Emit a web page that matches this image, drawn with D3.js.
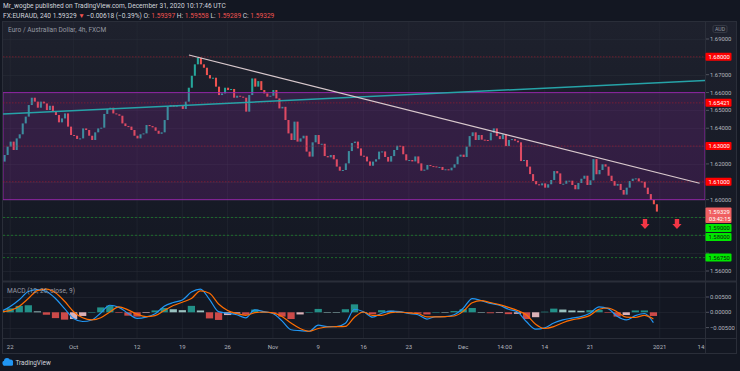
<!DOCTYPE html>
<html>
<head>
<meta charset="utf-8">
<script src="https://cdnjs.cloudflare.com/ajax/libs/d3/7.8.5/d3.min.js"></script>
<style>
  html, body { margin: 0; padding: 0; background: #131722; overflow: hidden; }
  svg { display: block; }
  text { font-family: Roboto, "Noto Sans", sans-serif; }
</style>
</head>
<body>
<div id="chart"></div>
<script>
// EURAUD 4h, closes (one value per 8h)
const closes = [
  1.6213, 1.6250, 1.6297, 1.6325, 1.6278, 1.6343, 1.6366, 1.6427, 1.6465, 1.6530,
  1.6571, 1.6549, 1.6515, 1.6549, 1.6539, 1.6502, 1.6526, 1.6493, 1.6474, 1.6433,
  1.6455, 1.6483, 1.6409, 1.6362, 1.6358, 1.6340, 1.6343, 1.6399, 1.6390, 1.6358,
  1.6334, 1.6377, 1.6399, 1.6403, 1.6480, 1.6508, 1.6515, 1.6483, 1.6478, 1.6470,
  1.6427, 1.6412, 1.6409, 1.6390, 1.6358, 1.6343, 1.6366, 1.6371, 1.6418, 1.6412,
  1.6405, 1.6386, 1.6369, 1.6377, 1.6446, 1.6521, 1.6530, 1.6521, 1.6530, 1.6526,
  1.6508, 1.6549, 1.6627, 1.6694, 1.6758, 1.6795, 1.6758, 1.6739, 1.6698, 1.6679,
  1.6683, 1.6633, 1.6586, 1.6595, 1.6627, 1.6614, 1.6620, 1.6571, 1.6582, 1.6577,
  1.6571, 1.6493, 1.6586, 1.6679, 1.6633, 1.6664, 1.6614, 1.6595, 1.6577, 1.6582,
  1.6614, 1.6567, 1.6511, 1.6520, 1.6446, 1.6371, 1.6334, 1.6437, 1.6325, 1.6343,
  1.6358, 1.6269, 1.6241, 1.6321, 1.6362, 1.6311, 1.6313, 1.6244, 1.6237, 1.6250,
  1.6226, 1.6185, 1.6162, 1.6166, 1.6203, 1.6272, 1.6317, 1.6325, 1.6287, 1.6246,
  1.6241, 1.6214, 1.6190, 1.6213, 1.6226, 1.6269, 1.6270, 1.6239, 1.6213, 1.6244,
  1.6278, 1.6302, 1.6300, 1.6254, 1.6220, 1.6222, 1.6214, 1.6242, 1.6203, 1.6162,
  1.6168, 1.6194, 1.6188, 1.6186, 1.6181, 1.6183, 1.6166, 1.6170, 1.6164, 1.6179,
  1.6198, 1.6241, 1.6252, 1.6239, 1.6297, 1.6356, 1.6377, 1.6334, 1.6362, 1.6336,
  1.6334, 1.6332, 1.6375, 1.6399, 1.6356, 1.6339, 1.6366, 1.6300, 1.6334, 1.6339,
  1.6330, 1.6321, 1.6216, 1.6222, 1.6185, 1.6143, 1.6104, 1.6086, 1.6080, 1.6091,
  1.6067, 1.6086, 1.6110, 1.6160, 1.6147, 1.6088, 1.6089, 1.6106, 1.6106, 1.6082,
  1.6058, 1.6093, 1.6117, 1.6134, 1.6082, 1.6108, 1.6227, 1.6142, 1.6166, 1.6198,
  1.6185, 1.6134, 1.6104, 1.6078, 1.6088, 1.6054, 1.6028, 1.6067, 1.6104, 1.6117,
  1.6119, 1.6102, 1.6100, 1.6067, 1.6031, 1.5998, 1.5974, 1.59329
];
const firstOpen = 1.6195;
const firstBarDay = -0.95;   // trading days counted from Sep 22
const barDays = 1 / 3;

// MACD (12, 26, close, 9), one reading per trading day from day -1
const macdValues = [
  0.0003, 0.0019, 0.0041, 0.0068, 0.0074, 0.0068, 0.0045, 0.0012, -0.0020, -0.0030,
  -0.0025, -0.0002, 0.0023, 0.0016, -0.0003, -0.0020, -0.0016, -0.0005, 0.0020, 0.0032,
  0.0040, 0.0066, 0.0076, 0.0042, 0.0002, -0.0003, -0.0008, -0.0018, 0.0008, 0.0002,
  -0.0004, -0.0028, -0.0057, -0.0060, -0.0062, -0.0042, -0.0047, -0.0047, -0.0036, 0.0010,
  0.0002, -0.0016, -0.0003, 0.0004, 0.0002, -0.0004, -0.0008, -0.0022, -0.0014, -0.0014,
  -0.0008, 0.0013, 0.0045, 0.0038, 0.0029, 0.0023, 0.0010, 0.0001, -0.0031, -0.0055,
  -0.0051, -0.0035, -0.0025, -0.0019, -0.0014, -0.0003, 0.0018, 0.0012, -0.0013, -0.0025,
  -0.0011, -0.0004, -0.0034
];
const signalValues = [
  0.0002, 0.0006, 0.0020, 0.0045, 0.0071, 0.0076, 0.0064, 0.0036, 0.0002, -0.0018,
  -0.0025, -0.0018, 0.0001, 0.0018, 0.0008, -0.0006, -0.0014, -0.0011, 0.0006, 0.0022,
  0.0033, 0.0045, 0.0070, 0.0062, 0.0027, 0.0006, -0.0004, -0.0010, -0.0001, 0.0001,
  -0.0002, -0.0014, -0.0035, -0.0053, -0.0062, -0.0053, -0.0048, -0.0047, -0.0046, -0.0016,
  0.0001, -0.0010, -0.0010, -0.0001, 0.0001, -0.0002, -0.0004, -0.0015, -0.0015, -0.0014,
  -0.0012, 0.0003, 0.0031, 0.0038, 0.0032, 0.0025, 0.0016, 0.0006, -0.0009, -0.0039,
  -0.0053, -0.0047, -0.0034, -0.0025, -0.0019, -0.0010, 0.0010, 0.0014, 0.0001, -0.0016,
  -0.0017, -0.0010, -0.0022
];
const macdFirstDay = -1;

const priceTicks = [1.69, 1.68, 1.67, 1.66, 1.65, 1.64, 1.63, 1.62, 1.61, 1.60, 1.59, 1.58, 1.57, 1.56];
const macdTicks = [0.005, 0, -0.005];
const timeLabels = ["22", "Oct", "12", "19", "26", "Nov", "9", "16", "23", "Dec", "14:00", "14", "21", "2021", "14:00"];
const timeDays = [0, 7, 14, 19, 24, 29, 34, 39, 44, 50, 54.58, 59, 64, 71.7, 76.7];

// drawings on the chart
const redLevels = [1.68, 1.65421, 1.63, 1.61];
const greenLevels = [1.59, 1.58, 1.5675];
const zone = [1.66, 1.60];
const channelLine = [[-0.79, 1.64798], [76.7, 1.66675]];
const trendLine = [[19.73, 1.68104], [76.1, 1.60916]];
const arrowMarks = [[70.07, 1.5892], [73.6, 1.5892]];
const lastPrice = 1.59329;
const countdown = "03:42:15";

const W = 740, H = 371;
const paneLeft = 3, paneRight = 705, axisRight = 736;
const priceTop = 22, priceBottom = 281, macdBottom = 338, timeBottom = 353;
const axisFont = 5.9;

const svg = d3.select("#chart").append("svg")
  .attr("width", W)
  .attr("height", H);

svg.append("rect").attr("width", W).attr("height", H).attr("fill", "#131722");

const defs = svg.append("defs");
const grad = defs.append("linearGradient")
  .attr("id", "bgGrad").attr("x1", 0).attr("y1", 0).attr("x2", 0).attr("y2", 1);
grad.append("stop").attr("offset", "0%").attr("stop-color", "#1e212d");
grad.append("stop").attr("offset", "100%").attr("stop-color", "#131722");

defs.append("clipPath").attr("id", "priceClip")
  .append("rect").attr("x", paneLeft).attr("y", priceTop)
  .attr("width", paneRight - paneLeft).attr("height", priceBottom - priceTop);
defs.append("clipPath").attr("id", "macdClip")
  .append("rect").attr("x", paneLeft).attr("y", priceBottom)
  .attr("width", paneRight - paneLeft).attr("height", macdBottom - priceBottom);
defs.append("clipPath").attr("id", "timeClip")
  .append("rect").attr("x", paneLeft).attr("y", macdBottom)
  .attr("width", paneRight - paneLeft).attr("height", timeBottom - macdBottom);

// scales
const x = d3.scaleLinear().domain([0, 64]).range([10.2, 590]);
const y = d3.scaleLinear().domain([1.56, 1.69]).range([271, 39]);
const ym = d3.scaleLinear().domain([-0.005, 0.005]).range([327.6, 297]);

// backgrounds
svg.append("rect")
  .attr("x", paneLeft).attr("y", priceTop)
  .attr("width", axisRight - paneLeft).attr("height", priceBottom - priceTop)
  .attr("fill", "url(#bgGrad)");

// grid
const grid = svg.append("g");
grid.selectAll(".vg").data(timeDays.filter(d => x(d) < paneRight)).join("line")
  .attr("x1", d => x(d)).attr("x2", d => x(d))
  .attr("y1", priceTop).attr("y2", macdBottom)
  .attr("stroke", "#2a2e39").attr("stroke-opacity", 0.45).attr("stroke-width", 1);
grid.selectAll(".hg").data(priceTicks).join("line")
  .attr("x1", paneLeft).attr("x2", paneRight)
  .attr("y1", d => Math.round(y(d)) + 0.5).attr("y2", d => Math.round(y(d)) + 0.5)
  .attr("stroke", "#2a2e39").attr("stroke-opacity", 0.45);
grid.selectAll(".mg").data(macdTicks).join("line")
  .attr("x1", paneLeft).attr("x2", paneRight)
  .attr("y1", d => Math.round(ym(d)) + 0.5).attr("y2", d => Math.round(ym(d)) + 0.5)
  .attr("stroke", "#2a2e39").attr("stroke-opacity", 0.45);

// price pane
const pricePane = svg.append("g").attr("clip-path", "url(#priceClip)");

const bars = closes.map((c, i) => ({
  day: firstBarDay + i * barDays,
  open: i === 0 ? firstOpen : closes[i - 1],
  close: c
}));

const bodyW = (x(barDays) - x(0)) * 0.68;
pricePane.append("g").selectAll("rect").data(bars).join("rect")
  .attr("x", d => x(d.day) - bodyW / 2)
  .attr("y", d => y(Math.max(d.open, d.close)))
  .attr("width", bodyW)
  .attr("height", d => Math.max(1, Math.abs(y(d.open) - y(d.close))))
  .attr("fill", d => d.close >= d.open ? "#26a69a" : "#ef5350");

// purple zone
pricePane.append("rect")
  .attr("x", paneLeft).attr("width", paneRight - paneLeft)
  .attr("y", y(zone[0])).attr("height", y(zone[1]) - y(zone[0]))
  .attr("fill", "#9c27b0").attr("fill-opacity", 0.2)
  .attr("stroke", "#9c27b0").attr("stroke-opacity", 0.85).attr("stroke-width", 1);

// horizontal levels
pricePane.selectAll(".red").data(redLevels).join("line")
  .attr("x1", paneLeft).attr("x2", paneRight)
  .attr("y1", d => y(d)).attr("y2", d => y(d))
  .attr("stroke", "#a51d2b").attr("stroke-opacity", 0.6)
  .attr("stroke-dasharray", "1.5,1.5");
pricePane.selectAll(".green").data(greenLevels).join("line")
  .attr("x1", paneLeft).attr("x2", paneRight)
  .attr("y1", d => y(d)).attr("y2", d => y(d))
  .attr("stroke", "#1f7a2c").attr("stroke-opacity", 0.85)
  .attr("stroke-dasharray", "2,2");

const seg = d3.line().x(d => x(d[0])).y(d => y(d[1]));
pricePane.append("path").attr("d", seg(channelLine))
  .attr("fill", "none").attr("stroke", "#26a3a8").attr("stroke-width", 1.5);
pricePane.append("path").attr("d", seg(trendLine))
  .attr("fill", "none").attr("stroke", "#d9c9cd").attr("stroke-width", 1.2);

// red down arrows
pricePane.selectAll(".arrow").data(arrowMarks).join("path")
  .attr("transform", d => `translate(${x(d[0])},${y(d[1])})`)
  .attr("d", "M-2.2,0 H2.2 V5 H4.6 L0,10 L-4.6,5 H-2.2 Z")
  .attr("fill", "#f23645");

svg.append("text")
  .attr("x", 8).attr("y", 31.5)
  .attr("font-size", 6.6).attr("fill", "#9598a1")
  .text("Euro / Australian Dollar, 4h, FXCM");

// MACD pane
const macdPane = svg.append("g").attr("clip-path", "url(#macdClip)");
const macdPts = macdValues.map((v, k) => ({
  day: macdFirstDay + k,
  macd: v,
  signal: signalValues[k],
  hist: v - signalValues[k]
}));

const histW = (x(1) - x(0)) * 0.8;
macdPane.append("g").selectAll("rect").data(macdPts).join("rect")
  .attr("x", d => x(d.day) - histW / 2)
  .attr("y", d => ym(Math.max(0, d.hist)))
  .attr("width", histW)
  .attr("height", d => Math.max(0.5, Math.abs(ym(d.hist) - ym(0))))
  .attr("fill-opacity", 0.85)
  .attr("fill", (d, k) => {
    const prev = k > 0 ? macdPts[k - 1].hist : 0;
    if (d.hist >= 0) return d.hist >= prev ? "#26a69a" : "#b2dfdb";
    return d.hist >= prev ? "#ffcdd2" : "#ef5350";
  });

macdPane.append("path")
  .datum(macdPts)
  .attr("d", d3.line().x(d => x(d.day)).y(d => ym(d.macd)).curve(d3.curveMonotoneX))
  .attr("fill", "none").attr("stroke", "#2196f3").attr("stroke-width", 1.2);
macdPane.append("path")
  .datum(macdPts)
  .attr("d", d3.line().x(d => x(d.day)).y(d => ym(d.signal)).curve(d3.curveMonotoneX))
  .attr("fill", "none").attr("stroke", "#ff6d00").attr("stroke-width", 1.2);

svg.append("text")
  .attr("x", 7).attr("y", 292.5)
  .attr("font-size", 6.6).attr("fill", "#9598a1")
  .text("MACD (12, 26, close, 9)");

// frame and separators
const frame = svg.append("g").attr("fill", "none").attr("stroke", "#2a2e39");
frame.append("rect")
  .attr("x", paneLeft - 0.5).attr("y", priceTop - 0.5)
  .attr("width", axisRight - paneLeft + 1).attr("height", timeBottom - priceTop + 1);
frame.append("line").attr("x1", paneRight + 0.5).attr("x2", paneRight + 0.5)
  .attr("y1", priceTop).attr("y2", timeBottom);
frame.append("line").attr("x1", paneLeft).attr("x2", axisRight)
  .attr("y1", priceBottom + 0.5).attr("y2", priceBottom + 0.5).attr("stroke-width", 2);
frame.append("line").attr("x1", paneLeft).attr("x2", axisRight)
  .attr("y1", macdBottom + 0.5).attr("y2", macdBottom + 0.5);

// labels for the drawn levels, stacked so they do not overlap
const boxH = 8, boxW = 26;
const tags = [];
redLevels.forEach(v => tags.push({ v, text: v.toFixed(5), fill: "#ff0000", ink: "#ffffff", h: boxH, top: 4 }));
greenLevels.forEach(v => tags.push({ v, text: v.toFixed(5), fill: "#00e600", ink: "#0d1a0d", h: boxH, top: 4 }));
tags.push({ v: lastPrice, text: lastPrice.toFixed(5), fill: "#f05f61", ink: "#ffffff", h: 15.5, top: 4, sub: countdown });
tags.sort((a, b) => y(a.v) - y(b.v));
let lastBottom = -Infinity;
tags.forEach(t => {
  t.cy = Math.max(y(t.v), lastBottom + t.top + 1);
  lastBottom = t.cy - t.top + t.h;
});

// price axis (tick labels hidden where a level label sits)
const axisG = svg.append("g");
const freeTicks = priceTicks.filter(p =>
  tags.every(t => y(p) < t.cy - t.top - 3 || y(p) > t.cy - t.top + t.h + 3));
axisG.selectAll(".pt").data(freeTicks).join("text")
  .attr("x", 710).attr("y", d => y(d) + 2.1)
  .attr("font-size", axisFont).attr("fill", "#b2b5be")
  .text(d => d.toFixed(5));
axisG.selectAll(".ptk").data(priceTicks).join("line")
  .attr("x1", paneRight + 1).attr("x2", paneRight + 4)
  .attr("y1", d => y(d)).attr("y2", d => y(d))
  .attr("stroke", "#50535e");
axisG.selectAll(".mt").data(macdTicks).join("text")
  .attr("x", 710).attr("y", d => ym(d) + 2.1)
  .attr("font-size", axisFont).attr("fill", "#b2b5be")
  .text(d => (d < 0 ? "\u2212" : "") + Math.abs(d).toFixed(5));
axisG.selectAll(".mtk").data(macdTicks).join("line")
  .attr("x1", paneRight + 1).attr("x2", paneRight + 4)
  .attr("y1", d => ym(d)).attr("y2", d => ym(d))
  .attr("stroke", "#50535e");

// currency badge
axisG.append("rect").attr("x", 713).attr("y", 25.5).attr("width", 14).attr("height", 7)
  .attr("rx", 1.5).attr("fill", "none").attr("stroke", "#363a45");
axisG.append("text").attr("x", 720).attr("y", 31).attr("text-anchor", "middle")
  .attr("font-size", 5.2).attr("fill", "#9598a1").text("AUD");

const tagG = axisG.selectAll(".tag").data(tags).join("g");
tagG.append("rect")
  .attr("x", paneRight + 0.5).attr("y", d => d.cy - d.top)
  .attr("width", boxW).attr("height", d => d.h)
  .attr("rx", 1).attr("fill", d => d.fill);
tagG.append("text")
  .attr("x", paneRight + 3.5).attr("y", d => d.cy + 2.2)
  .attr("font-size", axisFont).attr("fill", d => d.ink)
  .text(d => d.text);
tagG.filter(d => d.sub).append("text")
  .attr("x", paneRight + 4).attr("y", d => d.cy + 9.8)
  .attr("font-size", 5.6).attr("fill", "#ffffff")
  .text(d => d.sub);

// time axis
svg.append("g").attr("clip-path", "url(#timeClip)")
  .selectAll("text").data(timeLabels).join("text")
  .attr("x", (d, i) => x(timeDays[i]))
  .attr("y", 348.5)
  .attr("text-anchor", "middle")
  .attr("font-size", 6.0).attr("fill", "#b2b5be")
  .text(d => d);

// header
svg.append("text")
  .attr("x", 3).attr("y", 8.4)
  .attr("font-size", 6.6).attr("fill", "#d1d4dc")
  .text("Mr_wogbe published on TradingView.com, December 31, 2020 10:17:46 UTC");

const head2 = svg.append("text")
  .attr("x", 3).attr("y", 17.6)
  .attr("font-size", 6.6).attr("fill", "#d1d4dc");
const redInk = "#ef5350";
[
  ["FX:EURAUD, 240  1.59329 ", null],
  ["\u25BC", redInk],
  [" \u22120.00618 (\u22120.39%) O:", null],
  [" 1.59397", redInk],
  [" H:", null],
  [" 1.59558", redInk],
  [" L:", null],
  [" 1.59289", redInk],
  [" C:", null],
  [" 1.59329", redInk]
].forEach(([t, c]) => {
  const sp = head2.append("tspan").text(t);
  if (c) sp.attr("fill", c);
});

// TradingView logo
const logo = svg.append("g").attr("fill", "#2196f3");
logo.append("circle").attr("cx", 7).attr("cy", 361).attr("r", 3);
logo.append("circle").attr("cx", 10.5).attr("cy", 362).attr("r", 2.6);
logo.append("circle").attr("cx", 4.5).attr("cy", 363).attr("r", 2.2);
logo.append("rect").attr("x", 3).attr("y", 362.5).attr("width", 10).attr("height", 3.2).attr("rx", 1.2);
svg.append("text")
  .attr("x", 15.5).attr("y", 364.5)
  .attr("font-size", 6.4).attr("fill", "#d1d4dc")
  .text("TradingView");
</script>
</body>
</html>
